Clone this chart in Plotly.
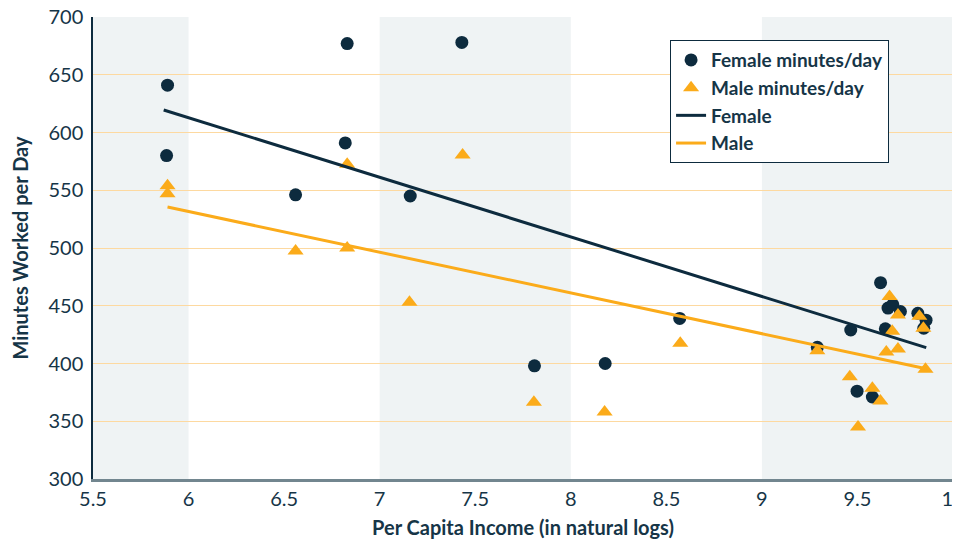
import plotly.graph_objects as go

# Data
female_x = [5.89, 5.885, 6.83, 6.82, 6.56, 7.43, 7.16, 7.81, 8.18, 8.57,
            9.29, 9.465, 9.498, 9.578, 9.621, 9.646, 9.66, 9.685, 9.725, 9.816, 9.859, 9.847]
female_y = [641, 580, 677, 591, 546, 678, 545, 398, 400, 439,
            414, 429, 376, 371, 470, 430, 448, 451, 445, 443.5, 437.5, 430.5]

male_x = [5.89, 5.89, 6.56, 6.83, 6.83, 7.156, 7.434, 7.807, 8.177, 8.573,
          9.29, 9.46, 9.503, 9.578, 9.62, 9.651, 9.668, 9.682, 9.712, 9.712, 9.824, 9.856, 9.845]
male_y = [554, 547, 497.5, 572.5, 500, 453, 580.5, 366.5, 358, 417.5,
          411, 388.5, 345, 378.5, 367.5, 410, 458, 428, 442, 412.5, 441, 395, 430.5]

female_fit_x = [5.87, 9.86]
female_fit_y = [619.5, 413.7]
male_fit_x = [5.89, 9.86]
male_fit_y = [535.5, 395.5]

x_ticks = [5.5, 6, 6.5, 7, 7.5, 8, 8.5, 9, 9.5, 10]
x_tick_labels = ["5.5", "6", "6.5", "7", "7.5", "8", "8.5", "9", "9.5", "10"]
y_ticks = [300, 350, 400, 450, 500, 550, 600, 650, 700]
band_ranges = [(5.5, 6), (7, 8), (9, 10)]

NAVY = "#0d2b3e"
ORANGE = "#fbab1a"
TEXT = "#163547"
FONT = "Lato, sans-serif"

fig = go.Figure()

fig.add_trace(go.Scatter(x=female_x, y=female_y, mode="markers", name="Female minutes/day",
                         marker=dict(symbol="circle", size=13, color=NAVY)))
fig.add_trace(go.Scatter(x=male_x, y=male_y, mode="markers", name="Male minutes/day",
                         marker=dict(symbol="triangle-up", size=14, color=ORANGE)))
fig.add_trace(go.Scatter(x=female_fit_x, y=female_fit_y, mode="lines", name="Female",
                         line=dict(color=NAVY, width=3)))
fig.add_trace(go.Scatter(x=male_fit_x, y=male_fit_y, mode="lines", name="Male",
                         line=dict(color=ORANGE, width=3)))

shapes = []
for x0, x1 in band_ranges:
    shapes.append(dict(type="rect", xref="x", yref="paper", x0=x0, x1=x1, y0=0, y1=1,
                       fillcolor="#eff3f4", line=dict(width=0), layer="below"))

fig.update_layout(
    width=960, height=543,
    margin=dict(l=85, r=15, t=9, b=72, autoexpand=False),
    paper_bgcolor="white", plot_bgcolor="white",
    shapes=shapes,
    font=dict(family=FONT, color=TEXT, size=20),
    showlegend=True,
    legend=dict(x=0.671, y=0.950, xanchor="left", yanchor="top",
                bgcolor="white", bordercolor=NAVY, borderwidth=1,
                font=dict(family=FONT, size=19, color=TEXT, weight="bold"),
                itemwidth=30, tracegroupgap=0),
    xaxis=dict(range=[5.5, 10], tickvals=x_ticks, ticktext=x_tick_labels,
               showgrid=False, zeroline=False, showline=True, linecolor="#72868f", linewidth=2.5,
               ticks="", tickfont=dict(size=20, color=TEXT), automargin=False,
               ticklabeloverflow="allow",
               title=dict(text="Per Capita Income (in natural logs)", standoff=13,
                          font=dict(size=20, color=TEXT, weight="bold"))),
    yaxis=dict(range=[300, 700], tickvals=y_ticks,
               showgrid=True, gridcolor="#fdd9a0", gridwidth=1, zeroline=False,
               showline=True, linecolor=NAVY, linewidth=1.5,
               ticks="", tickfont=dict(size=20, color=TEXT), automargin=False,
               ticklabeloverflow="allow", ticklabelstandoff=4,
               title=dict(text="Minutes Worked per Day", standoff=18,
                          font=dict(size=20, color=TEXT, weight="bold"))),
)

fig.write_html("out.html")
